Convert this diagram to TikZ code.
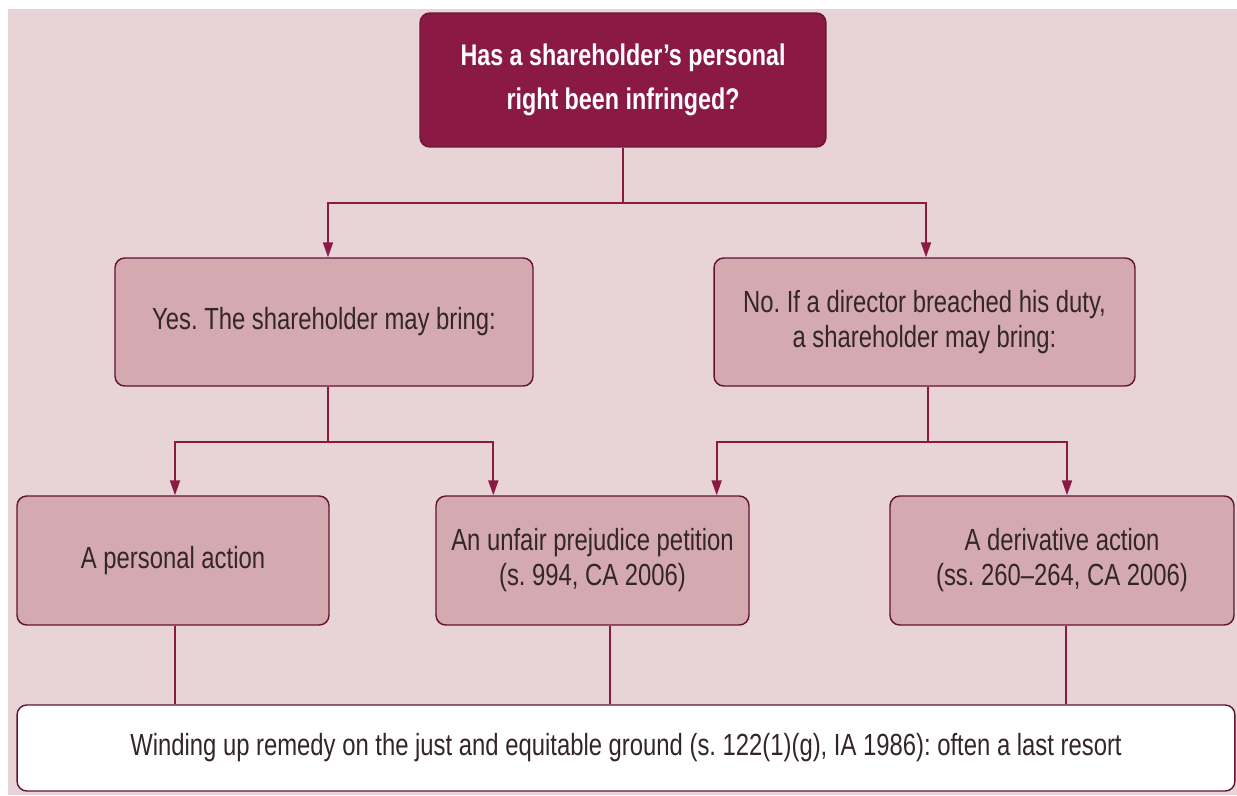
\documentclass[tikz,border=0pt]{standalone}
\usepackage{fontspec}
\setmainfont{Liberation Sans}[FakeStretch=0.78]
\usetikzlibrary{arrows.meta}
\frenchspacing
\definecolor{wine}{HTML}{8A1A44}
\definecolor{rosebg}{HTML}{E8D4D6}
\definecolor{rosebox}{HTML}{D4A9AF}
\definecolor{inktext}{HTML}{33262A}
\tikzset{every path/.style={line width=1.1pt},
  question/.style={rectangle, rounded corners=5.5pt, fill=wine, draw=wine!80!black, line width=0.8pt,
    text=white, align=center, font=\fontsize{17}{25}\selectfont\bfseries},
  answer/.style={rectangle, rounded corners=5.5pt, fill=rosebox, draw=wine!70!black, line width=0.8pt,
    text=inktext, align=center, font=\fontsize{17.4}{20}\selectfont},
  remedy/.style={rectangle, rounded corners=5.5pt, fill=white, draw=wine!70!black, line width=0.8pt,
    text=inktext, align=center, font=\fontsize{17.4}{20}\selectfont},
  link/.style={draw=wine},
  arrow/.style={draw=wine, -{Triangle[length=0.3cm,width=0.2cm]}}}

\begin{document}
\begin{tikzpicture}[x=0.02cm,y=-0.02cm]
   \useasboundingbox (0,0) rectangle (1237,795);
   \fill[rosebg] (8,9) rectangle (1237,795);

   \node[question, minimum width=8.12cm, minimum height=2.68cm] (top) at (623,80)
     {Has a shareholder’s personal\\right been infringed?};
   \node[answer, minimum width=8.36cm, minimum height=2.56cm] (yes) at (324,322)
     {Yes. The shareholder may bring:};
   \node[answer, minimum width=8.42cm, minimum height=2.56cm] (no) at (924.5,322)
     {No. If a director breached his duty,\\a shareholder may bring:};
   \node[answer, minimum width=6.24cm, minimum height=2.58cm] (personal) at (173,560.5)
     {A personal action};
   \node[answer, minimum width=6.26cm, minimum height=2.58cm] (unfair) at (592.5,560.5)
     {An unfair prejudice petition\\(s. 994, CA 2006)};
   \node[answer, minimum width=6.88cm, minimum height=2.58cm] (deriv) at (1062,560.5)
     {A derivative action\\(ss. 260–264, CA 2006)};
   \node[remedy, minimum width=24.36cm, minimum height=1.72cm] (winding) at (626,748)
     {Winding up remedy on the just and equitable ground (s. 122(1)(g), IA 1986): often a last resort};

   \draw[link] (top.south) -- ++(0,55) coordinate (split);
   \draw[arrow] (split) -| ([xshift=0.08cm]yes.north);
   \draw[arrow] (split) -| ([xshift=0.03cm]no.north);

   \draw[link] ([xshift=0.08cm]yes.south) -- ++(0,55) coordinate (ysplit);
   \draw[arrow] (ysplit) -| ([xshift=0.04cm]personal.north);
   \draw[arrow] (ysplit) -| ([xshift=1.16cm]unfair.north west);

   \draw[link] ([xshift=0.07cm]no.south) -- ++(0,55) coordinate (nsplit);
   \draw[arrow] (nsplit) -| ([xshift=-0.66cm]unfair.north east);
   \draw[arrow] (nsplit) -| ([xshift=0.1cm]deriv.north);

   \draw[link] ([xshift=0.04cm]personal.south) -- ([xshift=0.04cm]personal.south |- winding.north);
   \draw[link] ([xshift=0.35cm]unfair.south) -- ([xshift=0.35cm]unfair.south |- winding.north);
   \draw[link] ([xshift=0.08cm]deriv.south) -- ([xshift=0.08cm]deriv.south |- winding.north);
\end{tikzpicture}
\end{document}
